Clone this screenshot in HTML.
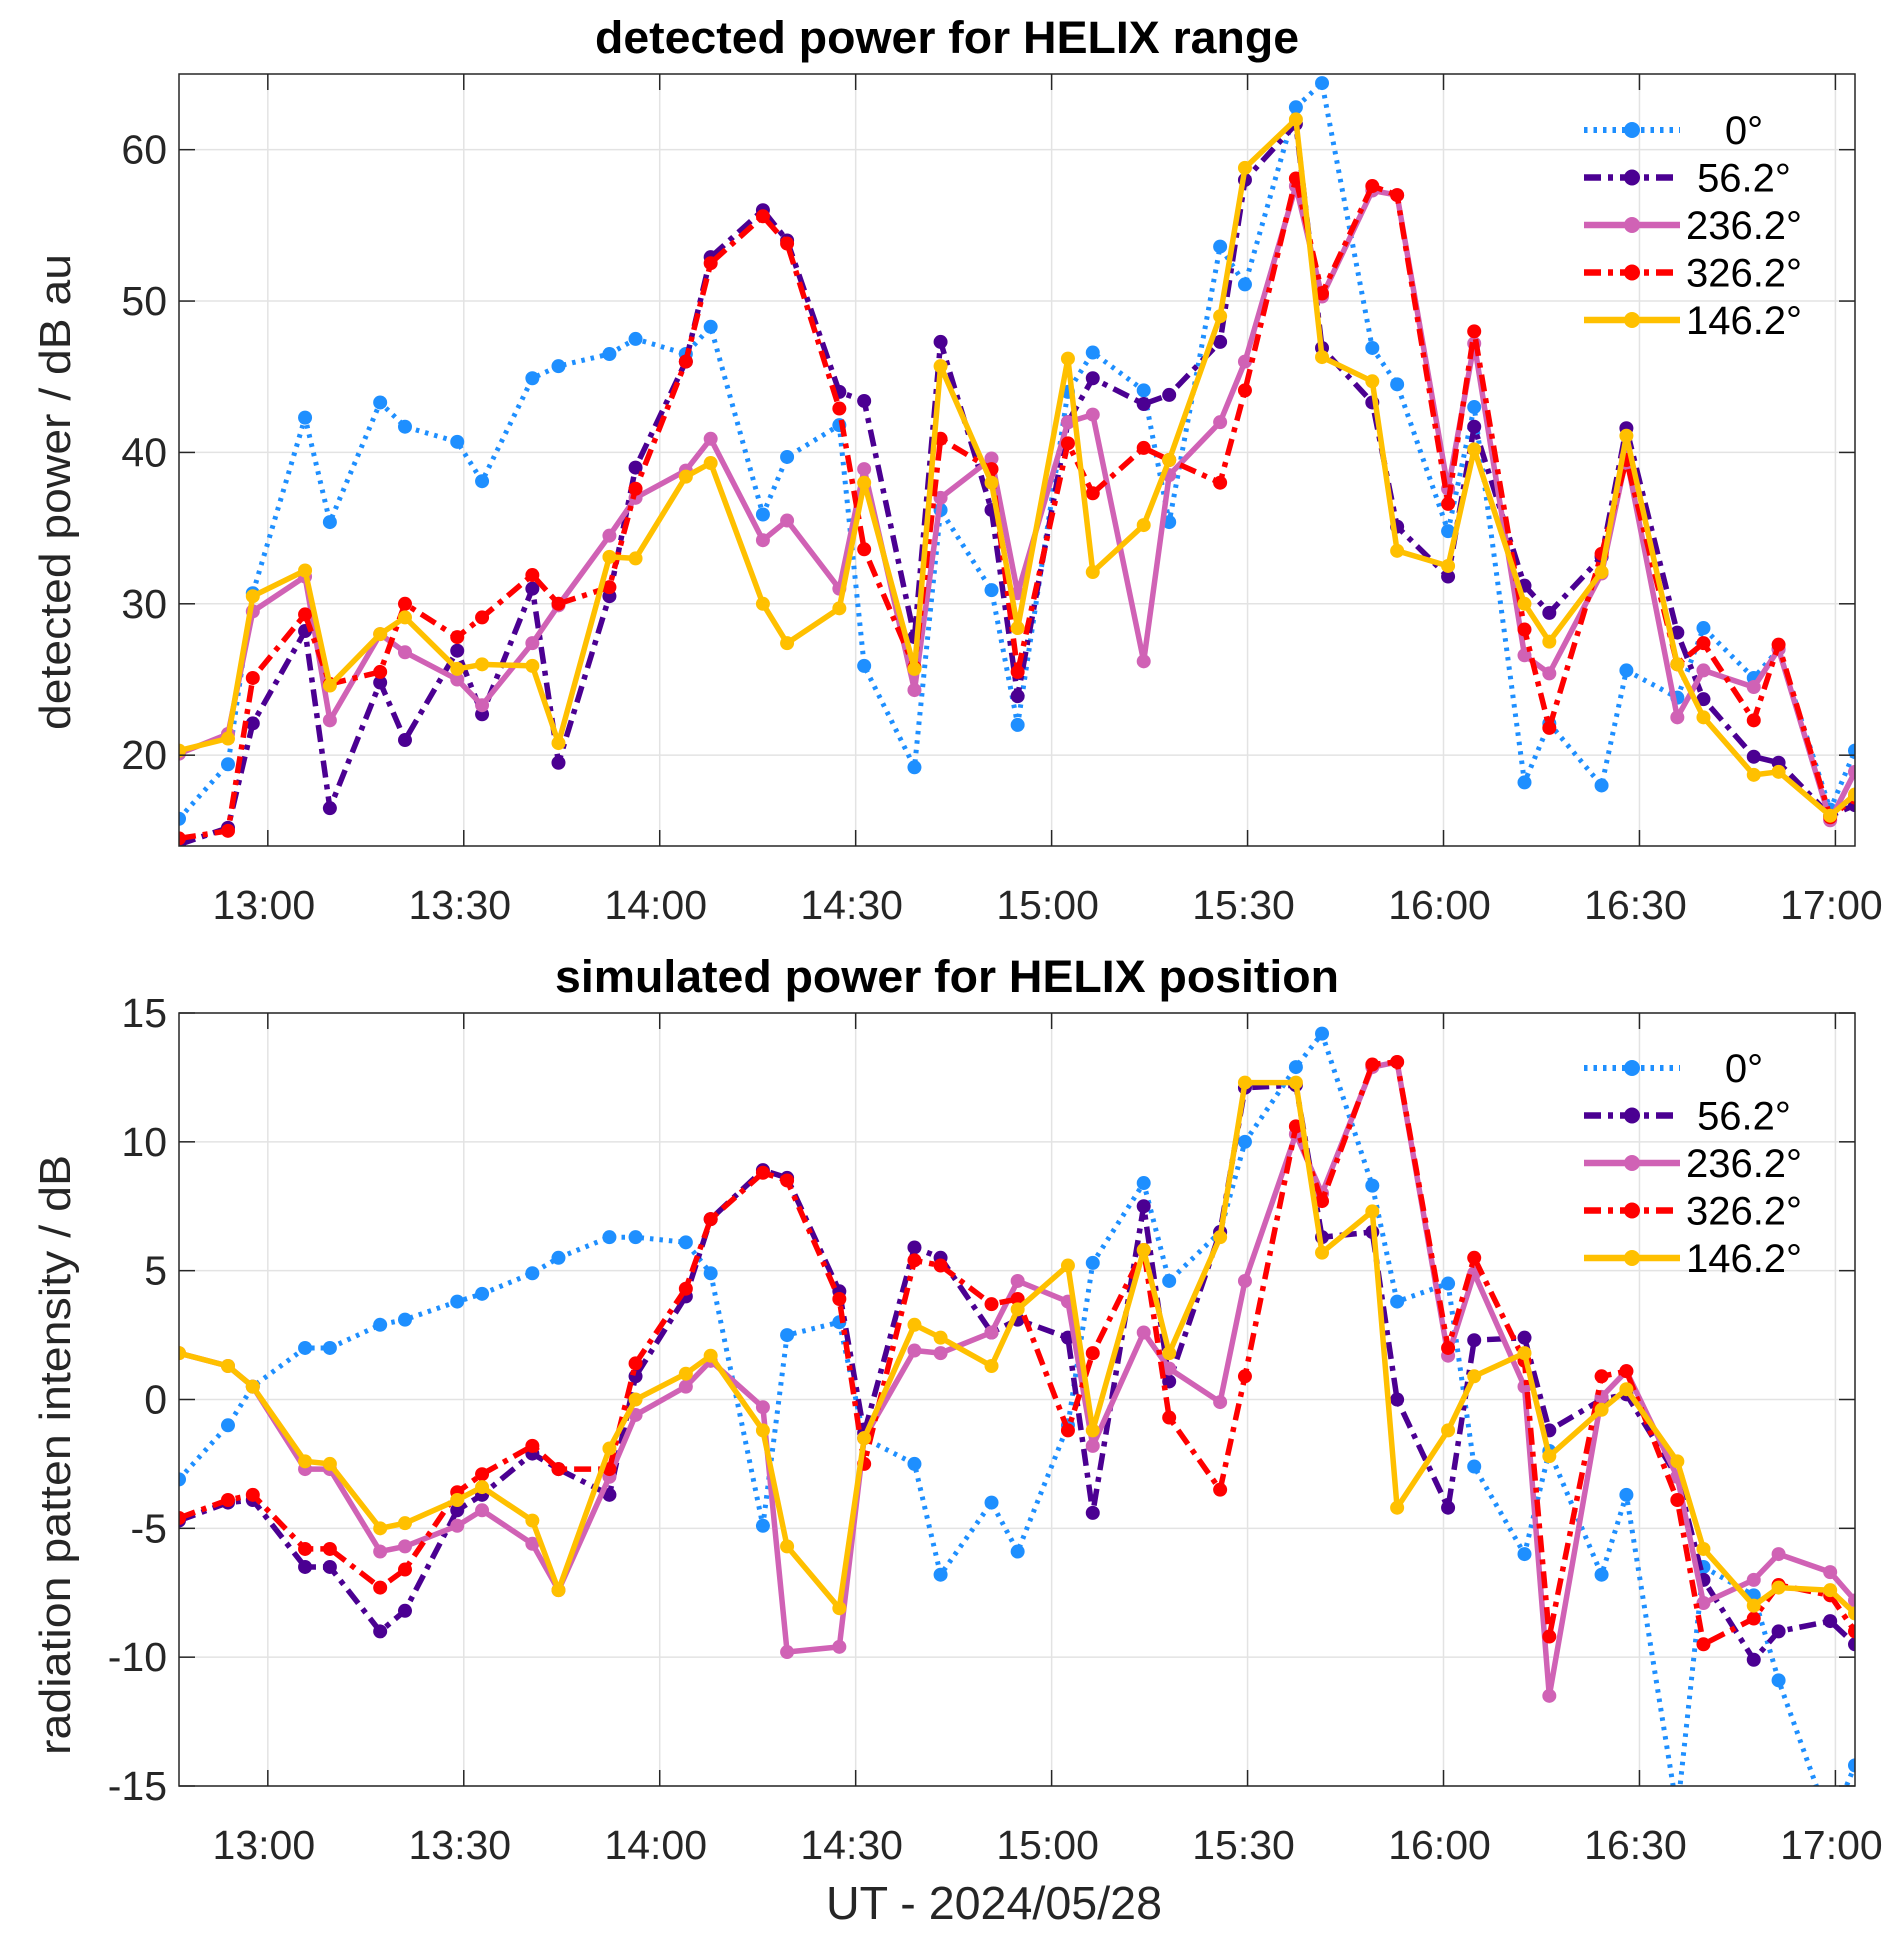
<!DOCTYPE html>
<html><head><meta charset="utf-8"><style>
body{margin:0;background:#fff;}
svg{display:block;font-family:"Liberation Sans",Arial,sans-serif;}
</style></head><body>
<svg id="chart" width="1892" height="1939" viewBox="0 0 1892 1939" xmlns="http://www.w3.org/2000/svg"></svg>
<script>
// time in minutes after 12:00
const times=[46.4,53.9,57.7,65.7,69.5,77.2,81,89,92.8,100.5,104.5,112.3,116.3,124,127.8,135.8,139.5,147.5,151.3,159,163,170.8,174.8,182.5,186.3,194.1,198,205.8,209.6,217.4,221.4,229.1,232.9,240.7,244.7,252.4,256.2,264.2,268,275.8,279.8,287.5,291.3,299.2,303];
const xTickValues=[60,90,120,150,180,210,240,270,300];
const xTickLabels=["13:00","13:30","14:00","14:30","15:00","15:30","16:00","16:30","17:00"];
const seriesNames=["0°","56.2°","236.2°","326.2°","146.2°"];
const topYTicks=[20,30,40,50,60];
const botYTicks=[-15,-10,-5,0,5,10,15];
const top0=[15.8,19.4,30.7,42.3,35.4,43.3,41.7,40.7,38.1,44.9,45.7,46.5,47.5,46.5,48.3,35.9,39.7,41.8,25.9,19.2,36.2,30.9,22.0,44,46.6,44.1,35.4,53.6,51.1,62.8,64.4,46.9,44.5,34.8,43.0,18.2,22.1,18.0,25.6,23.8,28.4,25.1,27,16.4,20.3];
const top56=[14.1,15.2,22.1,28.2,16.5,24.8,21.0,26.9,22.7,31.0,19.5,30.5,39.0,46.0,52.9,56.0,54.0,44.0,43.4,27.8,47.3,36.2,23.9,42,44.9,43.2,43.8,47.3,58,61.7,46.9,43.3,35.1,31.8,41.7,31.2,29.4,33.1,41.6,28.1,23.7,19.9,19.5,16.0,16.7];
const top236=[20.1,21.4,29.5,31.8,22.3,28,26.8,25.0,23.3,27.4,29.9,34.5,37.0,38.8,40.9,34.2,35.5,31.0,38.9,24.3,37.0,39.6,30.7,42,42.5,26.2,38.5,42.0,46.0,57.6,50.3,57.3,57,37.6,47.2,26.6,25.4,32,39.7,22.5,25.6,24.5,27,15.7,18.9];
const top326=[14.5,15.0,25.1,29.3,24.7,25.5,30,27.8,29.1,31.9,30.0,31.1,37.6,46.0,52.5,55.6,53.8,42.9,33.6,25.8,40.9,38.9,25.5,40.6,37.3,40.3,39.5,38.0,44.1,58.1,50.5,57.6,57.0,36.6,48.0,28.3,21.8,33.3,39.5,26,27.4,22.3,27.3,15.9,17.2];
const top146=[20.3,21.1,30.5,32.2,24.6,28.0,29.1,25.7,26.0,25.9,20.8,33.1,33.0,38.4,39.3,30.0,27.4,29.7,38.0,25.7,45.7,38.0,28.4,46.2,32.1,35.2,39.5,49,58.8,62.0,46.3,44.7,33.5,32.5,40.2,30,27.5,32.1,41.1,26.0,22.5,18.7,18.9,16.0,17.4];
const bot0=[-3.1,-1.0,0.5,2.0,2.0,2.9,3.1,3.8,4.1,4.9,5.5,6.3,6.3,6.1,4.9,-4.9,2.5,3.0,-1.5,-2.5,-6.8,-4.0,-5.9,-1,5.3,8.4,4.6,6.5,10.0,12.9,14.2,8.3,3.8,4.5,-2.6,-6.0,-2,-6.8,-3.7,-16,-6.5,-7.6,-10.9,-16.5,-14.2];
const bot56=[-4.7,-4.0,-3.9,-6.5,-6.5,-9.0,-8.2,-4.3,-3.7,-2.1,-2.7,-3.7,0.9,4.0,7.0,8.9,8.6,4.2,-1.3,5.9,5.5,2.6,3.1,2.4,-4.4,7.5,0.7,6.5,12.1,12.2,6.3,6.5,0.0,-4.2,2.3,2.4,-1.2,0,0.2,-3.0,-7.0,-10.1,-9.0,-8.6,-9.5];
const bot236=[1.8,1.3,0.5,-2.7,-2.7,-5.9,-5.7,-4.9,-4.3,-5.6,-7.4,-3.0,-0.6,0.5,1.5,-0.3,-9.8,-9.6,-1.5,1.9,1.8,2.6,4.6,3.8,-1.8,2.6,1.2,-0.1,4.6,10.3,8.0,12.9,13.1,1.7,4.9,0.5,-11.5,0.1,1.1,-3.0,-7.9,-7.0,-6.0,-6.7,-7.8];
const bot326=[-4.6,-3.9,-3.7,-5.8,-5.8,-7.3,-6.6,-3.6,-2.9,-1.8,-2.7,-2.7,1.4,4.3,7.0,8.8,8.5,3.9,-2.5,5.4,5.2,3.7,3.9,-1.2,1.8,5.8,-0.7,-3.5,0.9,10.6,7.7,13.0,13.1,2.0,5.5,1.5,-9.2,0.9,1.1,-3.9,-9.5,-8.5,-7.2,-7.6,-9.0];
const bot146=[1.8,1.3,0.5,-2.4,-2.5,-5.0,-4.8,-3.9,-3.4,-4.7,-7.4,-1.9,0.0,1.0,1.7,-1.2,-5.7,-8.1,-1.5,2.9,2.4,1.3,3.5,5.2,-1.2,5.8,1.8,6.3,12.3,12.3,5.7,7.3,-4.2,-1.2,0.9,1.8,-2.2,-0.4,0.4,-2.4,-5.8,-8.0,-7.3,-7.4,-8.3];

const NS="http://www.w3.org/2000/svg";
const svg=document.getElementById('chart');
const styles=[
 {c:"#1e8fff",d:"3.5,6",w:5,cap:"butt"},
 {c:"#4b0092",d:"17,7,5,7",w:5.5,cap:"butt"},
 {c:"#d062b5",d:"",w:5.5,cap:"round"},
 {c:"#ff0000",d:"17,7,5,7",w:5.5,cap:"butt"},
 {c:"#ffc000",d:"",w:5.5,cap:"round"}];
const X0=179,X1=1855,T0=46.4,T1=303;
function xs(t){return X0+(t-T0)/(T1-T0)*(X1-X0);}
function mk(tag,attrs,parent){const e=document.createElementNS(NS,tag);for(const k in attrs)e.setAttribute(k,attrs[k]);(parent||svg).appendChild(e);return e;}

function panel(id,top,bot,ymin,ymax,yticks,series,title,ylabel,legY,titleW,ylabW,ylabC,ylabFs){
  const g=mk('g',{});
  
  
  const ys=v=>bot-(v-ymin)/(ymax-ymin)*(bot-top);
  xTickValues.forEach(t=>{const l=mk('line',{x1:xs(t),x2:xs(t),y1:top,y2:bot,stroke:"#e3e3e3","stroke-width":1.5},g);
    });
  yticks.forEach(v=>{const l=mk('line',{x1:X0,x2:X1,y1:ys(v),y2:ys(v),stroke:"#e3e3e3","stroke-width":1.5},g);
    });
  const cp=mk('clipPath',{id:'cp'+id},g);mk('rect',{x:X0,y:top,width:X1-X0,height:bot-top},cp);
  const sg=mk('g',{'clip-path':'url(#cp'+id+')'},g);
  series.forEach((arr,i)=>{
    const st=styles[i];
    const pts=arr.map((v,j)=>xs(times[j]).toFixed(1)+","+ys(v).toFixed(1)).join(" ");
    const pl=mk('polyline',{points:pts,fill:"none",stroke:st.c,"stroke-width":st.w,"stroke-dasharray":st.d,"stroke-linejoin":"round","stroke-linecap":st.cap},sg);
    
    
    arr.forEach((v,j)=>{const c=mk('circle',{cx:xs(times[j]),cy:ys(v),r:7,fill:st.c},sg);
      });
  });
  const fr=mk('rect',{x:X0,y:top,width:X1-X0,height:bot-top,fill:"none",stroke:"#262626","stroke-width":1.5},g);
  
  xTickValues.forEach((t,k)=>{
    mk('line',{x1:xs(t),x2:xs(t),y1:bot,y2:bot-16,stroke:"#262626","stroke-width":1.5},g);
    mk('line',{x1:xs(t),x2:xs(t),y1:top,y2:top+16,stroke:"#262626","stroke-width":1.5},g);
    const tx=mk('text',{x:xs(t)-4,y:bot+73,"text-anchor":"middle","font-size":41,fill:"#262626"},g);
    tx.textContent=xTickLabels[k];
    
  });
  yticks.forEach(v=>{
    mk('line',{x1:X0,x2:X0+16,y1:ys(v),y2:ys(v),stroke:"#262626","stroke-width":1.5},g);
    mk('line',{x1:X1,x2:X1-16,y1:ys(v),y2:ys(v),stroke:"#262626","stroke-width":1.5},g);
    const tx=mk('text',{x:X0-12,y:ys(v)+14,"text-anchor":"end","font-size":41,fill:"#262626"},g);
    tx.textContent=String(v);
    
  });
  const tt=mk('text',{x:947,y:top-21,"text-anchor":"middle","font-size":45,"font-weight":"bold",fill:"#000",textLength:titleW,lengthAdjust:"spacingAndGlyphs"},g);
  tt.textContent=title;
  const yl=mk('text',{x:0,y:0,"text-anchor":"middle","font-size":ylabFs,fill:"#262626",textLength:ylabW,lengthAdjust:"spacingAndGlyphs",transform:`translate(70,${ylabC}) rotate(-90)`},g);
  yl.textContent=ylabel;
  const lg=mk('g',{},g);
  seriesNames.forEach((n,i)=>{
    const st=styles[i];const y=legY+i*47.5;
    const e=mk('g',{},lg);
    mk('line',{x1:1584,x2:1680,y1:y,y2:y,stroke:st.c,"stroke-width":st.w+1,"stroke-dasharray":st.d},e);
    mk('circle',{cx:1632,cy:y,r:8,fill:st.c},e);
    const tx=mk('text',{x:1744,y:y+14,"text-anchor":"middle","font-size":40,fill:"#000"},e);tx.textContent=n;
  });
}
panel('top-panel',74,846,14,65,topYTicks,[top0,top56,top236,top326,top146],'detected power for HELIX range','detected power / dB au',130,704,476,492,44);
panel('bottom-panel',1013,1786,-15,15,botYTicks,[bot0,bot56,bot236,bot326,bot146],'simulated power for HELIX position','radiation patten intensity / dB',1068,784,600,1455,44);
const xt=mk('text',{x:994,y:1919,"text-anchor":"middle","font-size":46,fill:"#262626",textLength:336,lengthAdjust:"spacingAndGlyphs"});
xt.textContent='UT - 2024/05/28';


</script>
</body></html>
